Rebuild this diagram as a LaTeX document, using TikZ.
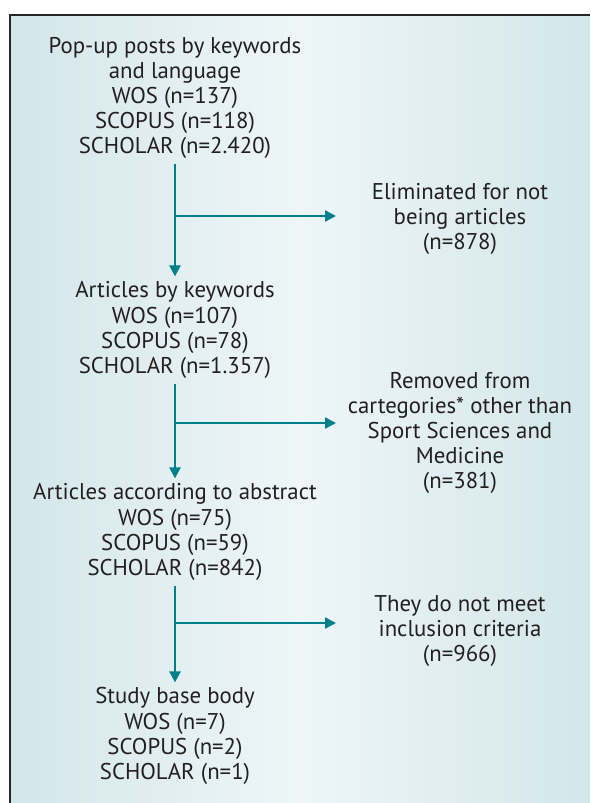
\documentclass[tikz,border=0pt]{standalone}
\usepackage{fontspec}
\setmainfont{PT Sans}
\usepackage{xcolor}
\usetikzlibrary{arrows.meta, positioning}

\definecolor{flowteal}{HTML}{00808A}
\definecolor{textgray}{HTML}{231F20}
\definecolor{bgedge}{HTML}{D3E6EA}
\definecolor{bgmid}{HTML}{EEF6F7}

\tikzset{
  stage/.style={align=center, text=textgray, inner sep=5pt, font=\fontsize{22.8}{25.2}\selectfont},
  dropped/.style={stage},
  flow/.style={draw=flowteal, line width=2.4pt, -{Triangle[length=11pt, width=11pt]}}
}

\begin{document}
\begin{tikzpicture}[x=1pt, y=-1pt]
\useasboundingbox (0,0) rectangle (590,803);
% Background
\shade[left color=bgedge, right color=bgedge, middle color=bgmid] (10,15) rectangle (590,803);
\draw[line width=1.5pt, black!85] (10,803) -- (10,15) -- (590,15);

% Stages
\node[stage] (posts) at (175,98) {Pop-up posts by keywords\\and language\\WOS (n=137)\\SCOPUS (n=118)\\SCHOLAR (n=2.420)};
\node[stage] (keywords) at (175,330) {Articles by keywords\\WOS (n=107)\\SCOPUS (n=78)\\SCHOLAR (n=1.357)};
\node[stage] (abstract) at (175,532) {Articles according to abstract\\WOS (n=75)\\SCOPUS (n=59)\\SCHOLAR (n=842)};
\node[stage] (base) at (175,736) {Study base body\\WOS (n=7)\\SCOPUS (n=2)\\SCHOLAR (n=1)};

% Excluded
\node[dropped] (notart) at (460,219) {Eliminated for not\\being articles\\(n=878)};
\node[dropped] (categ) at (460,433) {Removed from\\cartegories* other than\\Sport Sciences and\\Medicine\\(n=381)};
\node[dropped] (criteria) at (460,631) {They do not meet\\inclusion criteria\\(n=966)};

% Junctions
\coordinate (j1) at (175,216);
\coordinate (j2) at (175,423);
\coordinate (j3) at (175,623);
\coordinate (e1) at (336,216);
\coordinate (e2) at (336,423);
\coordinate (e3) at (336,623);

% Arrows
\draw[flow] (posts) -- (keywords);
\draw[flow] (keywords) -- (abstract);
\draw[flow] (abstract) -- (base);
\draw[flow] (j1) -- (e1);
\draw[flow] (j2) -- (e2);
\draw[flow] (j3) -- (e3);
\end{tikzpicture}
\end{document}
